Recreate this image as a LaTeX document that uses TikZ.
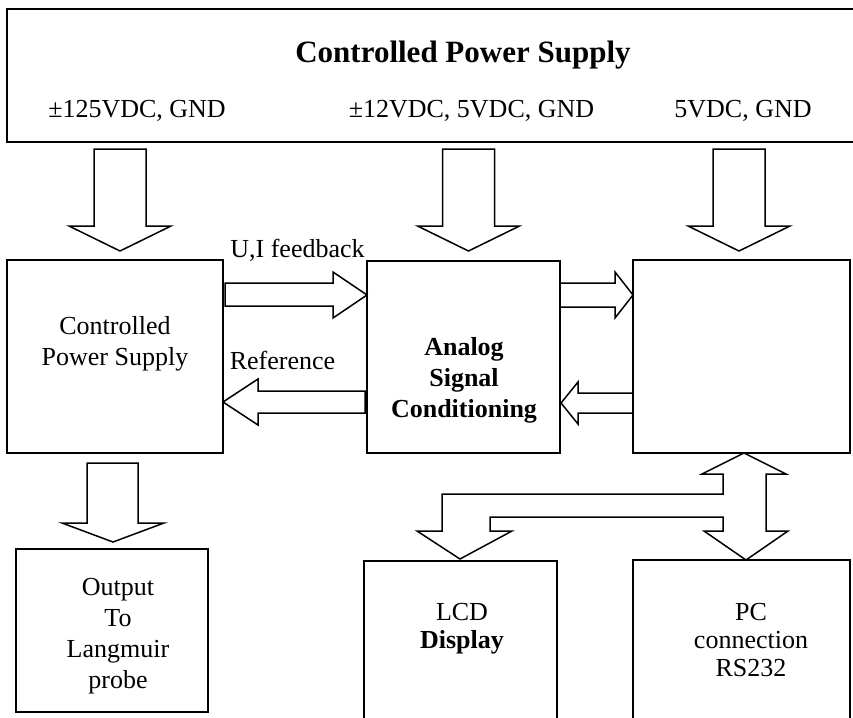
\documentclass[tikz,border=0pt]{standalone}
\usepackage{fontspec}
\setmainfont{Liberation Serif}
\usepackage{tikz}

\tikzset{
  unit/.style={draw,line width=1.5pt,inner sep=0pt},
  blk/.style={draw,line width=1.5pt,line join=miter},
  lbl/.style={inner sep=0pt,align=center,font=\fontsize{26}{31}\selectfont},
}

\begin{document}
\begin{tikzpicture}[x=1pt,y=-1pt]
  \useasboundingbox (0,0) rectangle (853,717);
  \clip (0,0) rectangle (853,717);
  % the blocks; the top one and the two lower right ones run off the page
  \node[unit,minimum width=866,minimum height=133] (supply) at (440,75.5) {};
  \node[unit,minimum width=216,minimum height=193] (psu)  at (115,356.5) {};
  \node[unit,minimum width=193,minimum height=192] (asc)  at (463.5,357) {};
  \node[unit,minimum width=217,minimum height=193] (mcu)  at (741.5,356.5) {};
  \node[unit,minimum width=192,minimum height=163] (probe) at (112,630.5) {};
  \node[unit,minimum width=193,minimum height=180] (lcd)  at (460.5,651) {};
  \node[unit,minimum width=217,minimum height=180] (pc)   at (741.5,650) {};

  \node[lbl,anchor=base,font=\fontsize{31}{37}\selectfont\bfseries] (title) at (463,63) {Controlled Power Supply};
  \node[lbl,anchor=base] (railhv)  at (137,117)   {±125VDC, GND};
  \node[lbl,anchor=base] (railsig) at (471.5,117) {±12VDC, 5VDC, GND};
  \node[lbl,anchor=base] (raildig) at (743,117)   {5VDC, GND};
  \node[lbl,anchor=base] (fbtxt)   at (297.5,257) {U,I feedback};
  \node[lbl,anchor=base] (reftxt)  at (282.5,369) {Reference};
  \node[lbl] (psutxt)   at (115,344)   {Controlled\\Power Supply};
  \node[lbl,font=\fontsize{26}{31}\selectfont\bfseries] (asctxt) at (464,380.5) {Analog\\Signal\\Conditioning};
  \node[lbl] (probetxt) at (118,636)   {Output\\To\\Langmuir\\probe};
  \node[lbl,font=\fontsize{26}{28}\selectfont] (lcdtxt) at (462,629) {LCD\\\textbf{Display}};
  \node[lbl,font=\fontsize{26}{28}\selectfont] (pctxt) at (751,640.5) {PC\\connection\\RS232};

  % supply rails down into the three blocks
  \foreach \cx in {120,468.5,739}
     { \draw[blk] (\cx,251) -- ++(-51,-25) -- ++(25,0) -- ++(0,-77)
                  -- ++(52,0) -- ++(0,77) -- ++(25,0) -- cycle; }
  \draw[blk] (113,542) -- (62,523) -- (87,523) -- (87,463) -- (138,463)
             -- (138,523) -- (164,523) -- cycle;
  % feedback and reference
  \draw[blk] (225,283) -- (333,283) -- (333,272) -- (367,295) -- (333,318)
             -- (333,306) -- (225,306) -- cycle;
  \draw[blk] (365,391) -- (258,391) -- (258,379) -- (223,402) -- (258,425)
             -- (258,413) -- (365,413) -- cycle;
  \draw[blk] (560,283) -- (615,283) -- (615,272) -- (633,295) -- (615,318)
             -- (615,307) -- (560,307) -- cycle;
  \draw[blk] (633,393) -- (578,393) -- (578,382) -- (561,403) -- (578,424)
             -- (578,413) -- (633,413) -- cycle;
  % bus to display and pc
  \draw[blk] (744,453) -- (786,474) -- (766,474) -- (766,531) -- (788,531)
             -- (746,560) -- (704,531) -- (723,531) -- (723,517) -- (490,517)
             -- (490,531) -- (512,531) -- (460,559) -- (417,531) -- (442,531)
             -- (442,494) -- (723,494) -- (723,474) -- (702,474) -- cycle;
\end{tikzpicture}
\end{document}
